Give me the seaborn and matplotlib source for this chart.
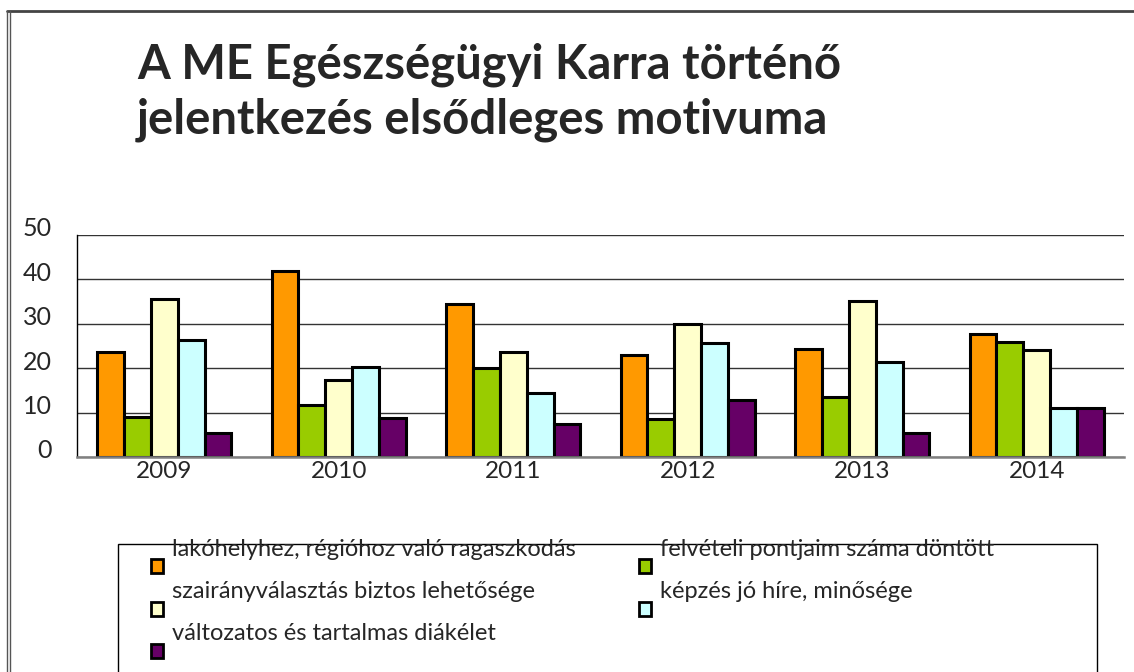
import numpy as np
import pandas as pd
import matplotlib
matplotlib.use("Agg")
import matplotlib.pyplot as plt
import matplotlib.transforms as mtransforms
from matplotlib.patches import Rectangle
from matplotlib.lines import Line2D
import seaborn as sns

# ── data ──────────────────────────────────────────────────────
years = ["2009", "2010", "2011", "2012", "2013", "2014"]
motives = [
    "lakóhelyhez, régióhoz való ragaszkodás",
    "felvételi pontjaim száma döntött",
    "szairányválasztás biztos lehetősége",
    "képzés jó híre, minősége",
    "változatos és tartalmas diákélet",
]
lakohely  = [23.6, 42.0, 34.5, 22.9, 24.3, 27.8]
felveteli = [9.1, 11.6, 20.0, 8.5, 13.5, 25.9]
szakirany = [35.5, 17.3, 23.6, 29.9, 35.1, 24.2]
kepzes    = [26.3, 20.3, 14.5, 25.6, 21.5, 11.0]
diakelet  = [5.3, 8.7, 7.4, 12.8, 5.5, 11.0]
yticks = [0, 10, 20, 30, 40, 50]
colors = ["#FF9900", "#99CC00", "#FFFFCC", "#CCFFFF", "#660066"]

series = [lakohely, felveteli, szakirany, kepzes, diakelet]
df = pd.DataFrame([(y, m, v) for m, vals in zip(motives, series)
                   for y, v in zip(years, vals)],
                  columns=["ev", "motivum", "ertek"])

sns.set_style("white")
plt.rcParams["font.family"] = ["Lato", "DejaVu Sans"]

fig = plt.figure(figsize=(11.34, 6.72), dpi=100)
W, H = 1134, 672
ax = fig.add_axes([77 / W, 1 - 457 / H, (1124 - 77) / W, (457 - 235) / H])

sns.barplot(data=df, x="ev", y="ertek", hue="motivum", hue_order=motives,
            order=years, palette=colors, width=5 / 6.5, edgecolor="black",
            linewidth=2.2, saturation=1, legend=False, ax=ax)

ax.set_ylim(0, 50)
ax.set_xlim(-0.5, 5.5)
ax.set_yticks(yticks)
ax.set_yticklabels([str(t) for t in yticks], fontsize=18)
ax.grid(axis="y", color="#333333", linewidth=1)
ax.set_axisbelow(True)
ax.set_xlabel("")
ax.set_ylabel("")
ax.tick_params(axis="y", length=9, color="#333333", width=1, pad=9)
ax.tick_params(axis="x", which="major", length=0, labelsize=17.5, pad=3)
ax.set_xticks(np.arange(-0.5, 6, 1), minor=True)
ax.tick_params(axis="x", which="minor", length=8, color="#808080", width=1.2)

# y labels sit a bit above their gridlines in the original
shift = mtransforms.ScaledTranslation(0, 0.08, fig.dpi_scale_trans)
for t in ax.get_yticklabels():
    t.set_transform(t.get_transform() + shift)

for s in ["top", "right"]:
    ax.spines[s].set_visible(False)
ax.spines["left"].set_color("black")
ax.spines["left"].set_linewidth(1)
ax.spines["bottom"].set_color("#808080")
ax.spines["bottom"].set_linewidth(1.8)

# title
fig.text(137 / W, 1 - 65 / H, "A ME Egészségügyi Karra történő",
         fontsize=34, fontweight="bold", ha="left", va="center")
fig.text(137 / W, 1 - 120 / H, "jelentkezés elsődleges motivuma",
         fontsize=34, fontweight="bold", ha="left", va="center")

# outer frame
fig.add_artist(Line2D([7 / W, 1], [1 - 11 / H, 1 - 11 / H], color="#444444", lw=2))
fig.add_artist(Line2D([7 / W, 7 / W], [0, 1 - 11 / H], color="#555555", lw=1))
fig.add_artist(Line2D([10 / W, 10 / W], [0, 1 - 11 / H], color="#555555", lw=1))

# legend box (row-wise, text sits above marker like the original)
fig.add_artist(Rectangle((118 / W, -0.1), (1097 - 118) / W, 0.1 + (672 - 544) / H,
                         transform=fig.transFigure, fill=False,
                         edgecolor="black", lw=1))
col_x = [151, 639]
row_y = [566, 609, 651]
for i, (lab, c) in enumerate(zip(motives, colors)):
    r, k = divmod(i, 2)
    mx, my = col_x[k], row_y[r]
    fig.add_artist(Rectangle((mx / W, 1 - (my + 7) / H), 12 / W, 14 / H,
                             transform=fig.transFigure, facecolor=c,
                             edgecolor="black", lw=2))
    fig.text((mx + 21) / W, 1 - (my - 17) / H, lab, fontsize=17,
             ha="left", va="center")

fig.savefig("out.png", dpi=100)
